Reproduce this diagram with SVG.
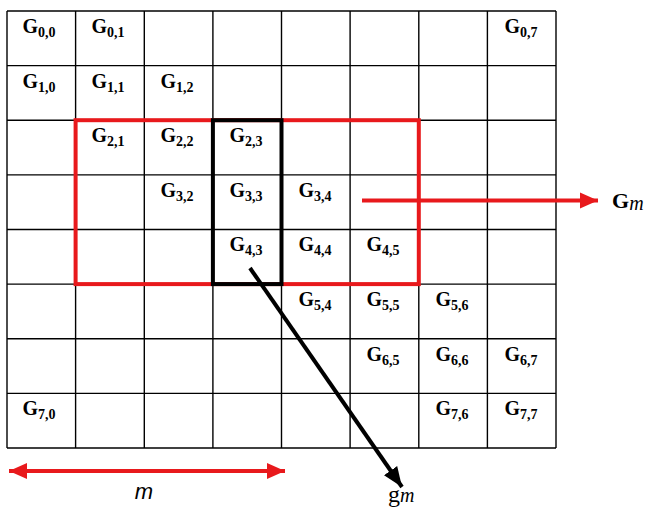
<svg xmlns="http://www.w3.org/2000/svg" width="647" height="512" viewBox="0 0 647 512">
<style>
.grid line{stroke:#000;stroke-width:1.4}
.lbl{font-family:"Liberation Serif","Times New Roman",serif;font-weight:bold;font-size:20px;fill:#000;text-anchor:middle}
.sub{font-size:14px}
</style>
<defs>
<marker id="ahR" markerUnits="userSpaceOnUse" markerWidth="20" markerHeight="20" viewBox="0 0 20 20" refX="18" refY="10" orient="auto-start-reverse"><path d="M0,2 L18,10 L0,18 Z" fill="#e8191c"/></marker>
<marker id="ahK" markerUnits="userSpaceOnUse" markerWidth="22" markerHeight="22" viewBox="0 0 22 22" refX="20" refY="11" orient="auto"><path d="M0,3 L20,11 L0,19 Z" fill="#000"/></marker>
</defs>
<rect width="647" height="512" fill="#fff"/>
<g id="grid" class="grid">
<line x1="7" y1="11" x2="556" y2="11"/>
<line x1="7" y1="65.6" x2="556" y2="65.6"/>
<line x1="7" y1="120.2" x2="556" y2="120.2"/>
<line x1="7" y1="174.9" x2="556" y2="174.9"/>
<line x1="7" y1="229.5" x2="556" y2="229.5"/>
<line x1="7" y1="284.1" x2="556" y2="284.1"/>
<line x1="7" y1="338.8" x2="556" y2="338.8"/>
<line x1="7" y1="393.4" x2="556" y2="393.4"/>
<line x1="7" y1="448" x2="556" y2="448"/>
<line x1="7" y1="11" x2="7" y2="448"/>
<line x1="75.6" y1="11" x2="75.6" y2="448"/>
<line x1="144.3" y1="11" x2="144.3" y2="448"/>
<line x1="212.9" y1="11" x2="212.9" y2="448"/>
<line x1="281.5" y1="11" x2="281.5" y2="448"/>
<line x1="350.1" y1="11" x2="350.1" y2="448"/>
<line x1="418.8" y1="11" x2="418.8" y2="448"/>
<line x1="487.4" y1="11" x2="487.4" y2="448"/>
<line x1="556" y1="11" x2="556" y2="448"/>
</g>
<g id="nodes">
<g id="G00"><text class="lbl" x="39" y="33">G<tspan class="sub" dy="4">0,0</tspan></text></g>
<g id="G01"><text class="lbl" x="108" y="33">G<tspan class="sub" dy="4">0,1</tspan></text></g>
<g id="G07"><text class="lbl" x="521" y="33">G<tspan class="sub" dy="4">0,7</tspan></text></g>
<g id="G10"><text class="lbl" x="39" y="88">G<tspan class="sub" dy="4">1,0</tspan></text></g>
<g id="G11"><text class="lbl" x="108" y="88">G<tspan class="sub" dy="4">1,1</tspan></text></g>
<g id="G12"><text class="lbl" x="177" y="88">G<tspan class="sub" dy="4">1,2</tspan></text></g>
<g id="G21"><text class="lbl" x="108" y="142">G<tspan class="sub" dy="4">2,1</tspan></text></g>
<g id="G22"><text class="lbl" x="177" y="142">G<tspan class="sub" dy="4">2,2</tspan></text></g>
<g id="G23"><text class="lbl" x="246" y="142">G<tspan class="sub" dy="4">2,3</tspan></text></g>
<g id="G32"><text class="lbl" x="177" y="197">G<tspan class="sub" dy="4">3,2</tspan></text></g>
<g id="G33"><text class="lbl" x="246" y="197">G<tspan class="sub" dy="4">3,3</tspan></text></g>
<g id="G34"><text class="lbl" x="315" y="197">G<tspan class="sub" dy="4">3,4</tspan></text></g>
<g id="G43"><text class="lbl" x="246" y="251">G<tspan class="sub" dy="4">4,3</tspan></text></g>
<g id="G44"><text class="lbl" x="315" y="251">G<tspan class="sub" dy="4">4,4</tspan></text></g>
<g id="G45"><text class="lbl" x="383" y="251">G<tspan class="sub" dy="4">4,5</tspan></text></g>
<g id="G54"><text class="lbl" x="315" y="306">G<tspan class="sub" dy="4">5,4</tspan></text></g>
<g id="G55"><text class="lbl" x="383" y="306">G<tspan class="sub" dy="4">5,5</tspan></text></g>
<g id="G56"><text class="lbl" x="452" y="306">G<tspan class="sub" dy="4">5,6</tspan></text></g>
<g id="G65"><text class="lbl" x="383" y="361">G<tspan class="sub" dy="4">6,5</tspan></text></g>
<g id="G66"><text class="lbl" x="452" y="361">G<tspan class="sub" dy="4">6,6</tspan></text></g>
<g id="G67"><text class="lbl" x="521" y="361">G<tspan class="sub" dy="4">6,7</tspan></text></g>
<g id="G70"><text class="lbl" x="39" y="415">G<tspan class="sub" dy="4">7,0</tspan></text></g>
<g id="G76"><text class="lbl" x="452" y="415">G<tspan class="sub" dy="4">7,6</tspan></text></g>
<g id="G77"><text class="lbl" x="521" y="415">G<tspan class="sub" dy="4">7,7</tspan></text></g>
</g>
<g id="windows">
<rect id="Gm-window" x="75.6" y="120.2" width="343.2" height="163.9" fill="none" stroke="#e8191c" stroke-width="4"/>
<rect id="gm-column" x="212.9" y="120.2" width="68.6" height="163.9" fill="none" stroke="#000" stroke-width="4"/>
</g>
<g id="connectors">
<line x1="362" y1="200.5" x2="598" y2="200.5" stroke="#e8191c" stroke-width="4" marker-end="url(#ahR)"/>
<line x1="250" y1="268" x2="402" y2="487" stroke="#000" stroke-width="4" marker-end="url(#ahK)"/>
<line x1="9" y1="471" x2="285" y2="471" stroke="#e8191c" stroke-width="4" marker-start="url(#ahR)" marker-end="url(#ahR)"/>
</g>
<g id="labels">
<text x="612" y="208" font-family="Liberation Serif,serif" font-size="22" font-weight="bold">G<tspan font-style="italic" font-weight="normal" font-size="20" dy="2">m</tspan></text>
<text x="388" y="502" font-family="Liberation Serif,serif" font-size="24">g<tspan font-style="italic" font-size="20">m</tspan></text>
<text x="144" y="499" font-family="Liberation Sans,Arial,sans-serif" font-size="22" font-style="italic" text-anchor="middle">m</text>
</g>
</svg>
